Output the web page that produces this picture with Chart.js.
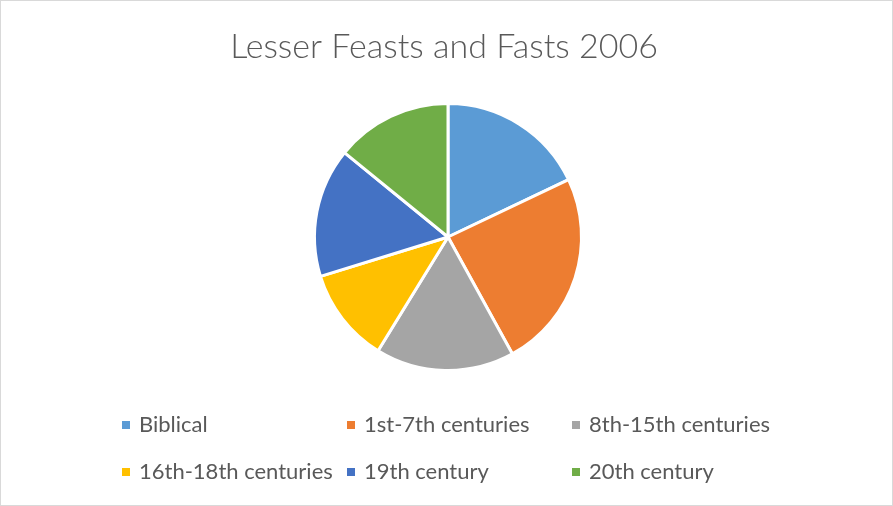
<!DOCTYPE html>
<html>
<head>
<meta charset="utf-8">
<script src="https://cdn.jsdelivr.net/npm/chart.js@4"></script>
<style>
  html, body { margin: 0; padding: 0; background: #fff; }
  #wrap { width: 893px; height: 506px; position: relative; }
</style>
</head>
<body>
<div id="wrap"><canvas id="pieChart" width="893" height="506"></canvas></div>
<script>
const chartTitle = 'Lesser Feasts and Fasts 2006';
const categories = ['Biblical', '1st-7th centuries', '8th-15th centuries', '16th-18th centuries', '19th century', '20th century'];
const counts = [47, 63, 44, 30, 41, 37];
const colors = ['#5B9BD5', '#ED7D31', '#A5A5A5', '#FFC000', '#4472C4', '#70AD47'];

const textColor = '#595959';
const fontFamily = 'Lato, "Open Sans", sans-serif';

// title, legend grid and outer frame drawn on the canvas
const decorPlugin = {
    id: 'decor',
    afterDraw(chart) {
        const ctx = chart.ctx;
        ctx.save();
        // frame
        ctx.strokeStyle = '#d9d9d9';
        ctx.lineWidth = 1;
        ctx.strokeRect(0.5, 0.5, chart.width - 1, chart.height - 1);
        // title
        ctx.fillStyle = textColor;
        ctx.font = '300 34px ' + fontFamily;
        ctx.textAlign = 'center';
        ctx.textBaseline = 'alphabetic';
        ctx.fillText(chartTitle, 444, 58);
        // legend, 3 columns x 2 rows
        ctx.font = '22px ' + fontFamily;
        ctx.textAlign = 'left';
        ctx.textBaseline = 'middle';
        const meta = chart.getDatasetMeta(0);
        chart.data.labels.forEach((lbl, i) => {
            const col = i % 3, row = Math.floor(i / 3);
            const x = 122 + col * 225;
            const y = 425 + row * 47;
            ctx.fillStyle = meta.data[i].options.backgroundColor;
            ctx.fillRect(x, y - 4, 8, 8);
            ctx.fillStyle = textColor;
            ctx.fillText(lbl, x + 17, y);
        });
        ctx.restore();
    }
};

new Chart(document.getElementById('pieChart').getContext('2d'), {
    type: 'pie',
    data: {
        labels: categories,
        datasets: [{
            data: counts,
            backgroundColor: colors,
            borderColor: '#ffffff',
            borderWidth: 3
        }]
    },
    options: {
        responsive: false,
        animation: false,
        layout: { padding: { left: 313, right: 310, top: 102, bottom: 134 } },
        plugins: {
            legend: { display: false },
            title: { display: false },
            tooltip: { enabled: false }
        }
    },
    plugins: [decorPlugin]
});
</script>
</body>
</html>
